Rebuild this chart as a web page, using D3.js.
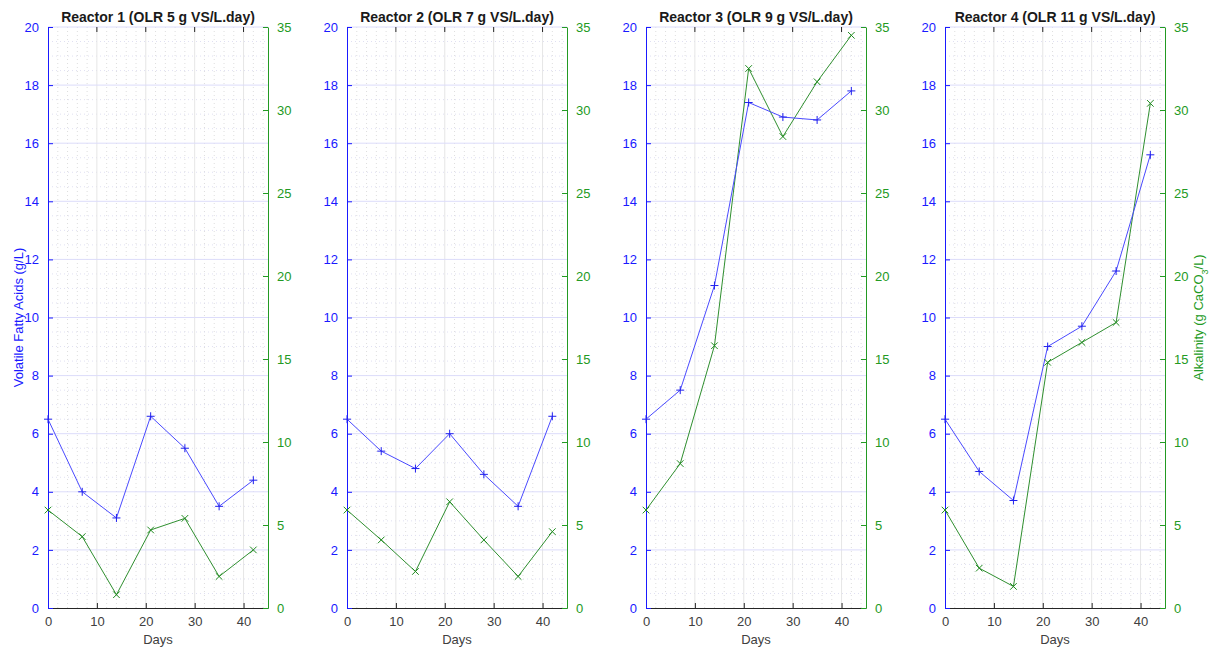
<!DOCTYPE html>
<html>
<head>
<meta charset="utf-8">
<script src="https://cdn.jsdelivr.net/npm/d3@7"></script>
<style>
  html, body { margin: 0; padding: 0; background: #ffffff; }
  svg { display: block; font-family: "Liberation Sans", Arial, sans-serif; }
</style>
</head>
<body>
<svg id="chart" width="1211" height="648"></svg>
<script>
// ---- data ----
const days = [0, 7, 14, 21, 28, 35, 42];
const titles = [
  "Reactor 1 (OLR 5 g VS/L.day)",
  "Reactor 2 (OLR 7 g VS/L.day)",
  "Reactor 3 (OLR 9 g VS/L.day)",
  "Reactor 4 (OLR 11 g VS/L.day)"
];
const vfaR1 = [6.5, 4.0, 3.1, 6.6, 5.5, 3.5, 4.4];
const vfaR2 = [6.5, 5.4, 4.8, 6.0, 4.6, 3.5, 6.6];
const vfaR3 = [6.5, 7.5, 11.1, 17.4, 16.9, 16.8, 17.8];
const vfaR4 = [6.5, 4.7, 3.7, 9.0, 9.7, 11.6, 15.6];
const alkR1 = [5.9, 4.3, 0.8, 4.7, 5.4, 1.9, 3.5];
const alkR2 = [5.9, 4.1, 2.2, 6.4, 4.1, 1.9, 4.6];
const alkR3 = [5.9, 8.7, 15.8, 32.5, 28.4, 31.7, 34.5];
const alkR4 = [5.9, 2.4, 1.3, 14.8, 16.0, 17.2, 30.4];
const xTicks = [0, 10, 20, 30, 40];
const leftTicks = [0, 2, 4, 6, 8, 10, 12, 14, 16, 18, 20];
const rightTicks = [0, 5, 10, 15, 20, 25, 30, 35];
const xDomain = [0, 45];
const leftDomain = [0, 20];
const rightDomain = [0, 35];
const vfaLabel = "Volatile Fatty Acids (g/L)";
const xLabel = "Days";

const vfaSeries = [vfaR1, vfaR2, vfaR3, vfaR4];
const alkSeries = [alkR1, alkR2, alkR3, alkR4];

// ---- style ----
const blue = "#1a1aff", blueLine = "#4a4aff";
const green = "#239a23", greenLine = "#2f8f2f";
const panelLefts = [48, 347, 646, 945];
const pw = 220, plotTop = 27, plotBottom = 608;
const fontFam = "Liberation Sans, Arial, sans-serif";

const svg = d3.select("#chart");

panelLefts.forEach((left, i) => {
  const x = d3.scaleLinear().domain(xDomain).range([left, left + pw]);
  const yL = d3.scaleLinear().domain(leftDomain).range([plotBottom, plotTop]);
  const yR = d3.scaleLinear().domain(rightDomain).range([plotBottom, plotTop]);
  const g = svg.append("g");

  // minor grid (dotted)
  const xMinor = d3.range(xDomain[0], xDomain[1] + 0.001, 2).filter(v => v % 10 !== 0);
  const yMinor = d3.range(leftDomain[0], leftDomain[1] + 0.001, 0.5).filter(v => v % 2 !== 0);
  g.selectAll(".xminor").data(xMinor).enter().append("line")
    .attr("x1", d => x(d)).attr("x2", d => x(d)).attr("y1", plotTop).attr("y2", plotBottom)
    .attr("stroke", "#dedede").attr("stroke-width", 1).attr("stroke-dasharray", "1,3");
  g.selectAll(".yminor").data(yMinor).enter().append("line")
    .attr("x1", left).attr("x2", left + pw).attr("y1", d => yL(d)).attr("y2", d => yL(d))
    .attr("stroke", "#e0e0f2").attr("stroke-width", 1).attr("stroke-dasharray", "1,3");

  // major grid
  g.selectAll(".xmajor").data(xTicks.filter(v => v > 0)).enter().append("line")
    .attr("x1", d => x(d)).attr("x2", d => x(d)).attr("y1", plotTop).attr("y2", plotBottom)
    .attr("stroke", "#e6e6e6").attr("stroke-width", 1);
  g.selectAll(".ymajor").data(leftTicks.filter(v => v > 0 && v < 20)).enter().append("line")
    .attr("x1", left).attr("x2", left + pw).attr("y1", d => yL(d)).attr("y2", d => yL(d))
    .attr("stroke", "#dcdcfa").attr("stroke-width", 1);

  // top box line
  g.append("line").attr("x1", left).attr("x2", left + pw).attr("y1", plotTop).attr("y2", plotTop)
    .attr("stroke", "#dcdcfa").attr("stroke-width", 1);

  // axes
  const xAxis = d3.axisBottom(x).tickValues(xTicks).tickSize(-5).tickSizeOuter(0).tickPadding(9);
  const gx = g.append("g").attr("transform", `translate(0,${plotBottom})`).call(xAxis);
  gx.select(".domain").attr("stroke", "#262626");
  gx.selectAll(".tick line").attr("stroke", "#262626");
  gx.selectAll("text").attr("fill", "#404040").attr("font-size", 13).attr("font-family", fontFam);

  // top ticks
  g.selectAll(".ttick").data(xTicks.filter(v => v > 0)).enter().append("line")
    .attr("x1", d => x(d)).attr("x2", d => x(d)).attr("y1", plotTop).attr("y2", plotTop + 5)
    .attr("stroke", "#262626").attr("stroke-width", 1);

  const leftAxis = d3.axisLeft(yL).tickValues(leftTicks).tickSize(-5).tickSizeOuter(0).tickPadding(9);
  const gl = g.append("g").attr("transform", `translate(${left},0)`).call(leftAxis);
  gl.select(".domain").attr("stroke", blue);
  gl.selectAll(".tick line").attr("stroke", blue);
  gl.selectAll("text").attr("fill", blue).attr("font-size", 13).attr("font-family", fontFam);

  const rightAxis = d3.axisRight(yR).tickValues(rightTicks).tickSize(-5).tickSizeOuter(0).tickPadding(9);
  const gr = g.append("g").attr("transform", `translate(${left + pw},0)`).call(rightAxis);
  gr.select(".domain").attr("stroke", green);
  gr.selectAll(".tick line").attr("stroke", green);
  gr.selectAll("text").attr("fill", green).attr("font-size", 13).attr("font-family", fontFam);

  // lines
  const vfa = vfaSeries[i], alk = alkSeries[i];
  const lineL = d3.line().x((d, j) => x(days[j])).y(d => yL(d));
  const lineR = d3.line().x((d, j) => x(days[j])).y(d => yR(d));
  g.append("path").attr("d", lineR(alk)).attr("fill", "none").attr("stroke", greenLine).attr("stroke-width", 1);
  g.append("path").attr("d", lineL(vfa)).attr("fill", "none").attr("stroke", blueLine).attr("stroke-width", 1);

  // markers
  const ms = 4;
  g.selectAll(".plus").data(vfa).enter().append("path")
    .attr("d", (d, j) => { const cx = x(days[j]), cy = yL(d);
      return `M${cx - ms},${cy}L${cx + ms},${cy}M${cx},${cy - ms}L${cx},${cy + ms}`; })
    .attr("stroke", "#2020ee").attr("stroke-width", 1).attr("fill", "none");
  const mx = 3.3;
  g.selectAll(".cross").data(alk).enter().append("path")
    .attr("d", (d, j) => { const cx = x(days[j]), cy = yR(d);
      return `M${cx - mx},${cy - mx}L${cx + mx},${cy + mx}M${cx - mx},${cy + mx}L${cx + mx},${cy - mx}`; })
    .attr("stroke", "#1f8a1f").attr("stroke-width", 1).attr("fill", "none");

  // title
  g.append("text").attr("x", left + pw / 2).attr("y", 22).attr("text-anchor", "middle")
    .attr("font-size", 14).attr("font-weight", "bold").attr("fill", "#1a1a1a").text(titles[i]);

  // x label
  g.append("text").attr("x", left + pw / 2).attr("y", 644).attr("text-anchor", "middle")
    .attr("font-size", 13).attr("fill", "#404040").text(xLabel);

  if (i === 0) {
    g.append("text").attr("transform", `translate(23,${(plotTop + plotBottom) / 2}) rotate(-90)`)
      .attr("text-anchor", "middle").attr("font-size", 13).attr("fill", blue).text(vfaLabel);
  }
  if (i === 3) {
    const t = g.append("text").attr("transform", `translate(1203,${(plotTop + plotBottom) / 2}) rotate(-90)`)
      .attr("text-anchor", "middle").attr("font-size", 13).attr("fill", green);
    t.append("tspan").text("Alkalinity (g CaCO");
    t.append("tspan").attr("baseline-shift", "sub").attr("font-size", 9).text("3");
    t.append("tspan").text("/L)");
  }
});
</script>
</body>
</html>
